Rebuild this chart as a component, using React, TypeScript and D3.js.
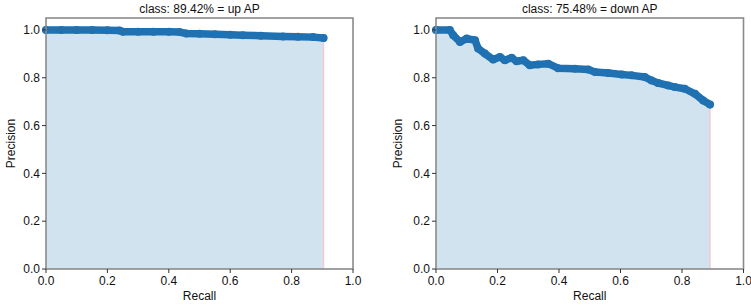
import React from "react";
import * as d3 from "d3";

const upRecall = [0, 0.05, 0.1, 0.15, 0.2, 0.239, 0.25, 0.3, 0.35, 0.4, 0.435, 0.457, 0.5, 0.55, 0.6, 0.641, 0.7, 0.772, 0.82, 0.87, 0.904];
const upPrecision = [1.0, 1.0, 1.0, 1.0, 0.999, 0.998, 0.993, 0.993, 0.992, 0.992, 0.991, 0.985, 0.984, 0.982, 0.98, 0.978, 0.976, 0.973, 0.972, 0.97, 0.966];

const downRecall = [0, 0.045, 0.056, 0.078, 0.1, 0.127, 0.137, 0.159, 0.186, 0.208, 0.224, 0.246, 0.262, 0.284, 0.305, 0.332, 0.365, 0.397, 0.452, 0.495, 0.517, 0.56, 0.604, 0.636, 0.679, 0.701, 0.722, 0.755, 0.777, 0.809, 0.842, 0.869, 0.891];
const downPrecision = [1.0, 1.0, 0.978, 0.95, 0.964, 0.957, 0.922, 0.901, 0.876, 0.887, 0.873, 0.884, 0.869, 0.873, 0.852, 0.856, 0.859, 0.84, 0.838, 0.835, 0.824, 0.82, 0.814, 0.81, 0.803, 0.789, 0.778, 0.768, 0.761, 0.754, 0.733, 0.705, 0.688];

const ticks = [0, 0.2, 0.4, 0.6, 0.8, 1.0];
const titles = ["class: 89.42% = up AP", "class: 75.48% = down AP"];

const FONT = "'Liberation Sans', Arial, sans-serif";
const TEXT = "#111";
const BLUE = "#1f71b2";

function Panel({ x0, x1, recall, precision, title, labelX }: { x0: number; x1: number; recall: number[]; precision: number[]; title: string; labelX: number }) {
  const x = d3.scaleLinear().domain([0, 1]).range([x0, x1]);
  const y = d3.scaleLinear().domain([0, 1.05]).range([269, 18]);
  const pts: [number, number][] = recall.map((r, i) => [r, precision[i]]);
  const area = d3.area<[number, number]>().x((d) => x(d[0])).y0(y(0)).y1((d) => y(d[1]))(pts) || "";
  const line = d3.line<[number, number]>().x((d) => x(d[0])).y((d) => y(d[1]))(pts) || "";
  const last = pts[pts.length - 1];
  return (
    <g>
      <path d={area} fill="#d2e3f0" />
      <line x1={x(last[0])} x2={x(last[0])} y1={y(0)} y2={y(last[1])} stroke="#f6c9cf" strokeWidth={1.5} />
      <path d={line} fill="none" stroke={BLUE} strokeWidth={7.5} strokeLinejoin="round" strokeLinecap="round" />
      {pts.map((p, i) => (
        <circle key={i} cx={x(p[0])} cy={y(p[1])} r={4} fill={BLUE} />
      ))}
      <rect x={x0} y={18} width={x1 - x0} height={269 - 18} fill="none" stroke="#8a8a8a" strokeWidth={1.6} />
      {ticks.map((t) => (
        <g key={"x" + t}>
          <line x1={x(t)} x2={x(t)} y1={269} y2={273} stroke="#333" strokeWidth={1} />
          <text x={x(t)} y={285} textAnchor="middle" fontFamily={FONT} fontSize={12} fill={TEXT}>{t.toFixed(1)}</text>
        </g>
      ))}
      {ticks.map((t) => (
        <g key={"y" + t}>
          <line x1={x0 - 4} x2={x0} y1={y(t)} y2={y(t)} stroke="#333" strokeWidth={1} />
          <text x={x0 - 6} y={y(t)} dy="0.35em" textAnchor="end" fontFamily={FONT} fontSize={12} fill={TEXT}>{t.toFixed(1)}</text>
        </g>
      ))}
      <text x={(x0 + x1) / 2} y={300} textAnchor="middle" fontFamily={FONT} fontSize={12} fill={TEXT}>Recall</text>
      <text transform={`translate(${labelX},143.5) rotate(-90)`} textAnchor="middle" fontFamily={FONT} fontSize={12} fill={TEXT}>Precision</text>
      <text x={(x0 + x1) / 2} y={13} textAnchor="middle" fontFamily={FONT} fontSize={12} fill={TEXT}>{title}</text>
    </g>
  );
}

export default function App() {
  return (
    <svg width={751} height={306} style={{ position: "absolute", left: 0, top: 0, background: "#fff" }}>
      <rect width={751} height={306} fill="#fff" />
      <Panel x0={46} x1={353} recall={upRecall} precision={upPrecision} title={titles[0]} labelX={14.5} />
      <Panel x0={436} x1={743.5} recall={downRecall} precision={downPrecision} title={titles[1]} labelX={402} />
    </svg>
  );
}
